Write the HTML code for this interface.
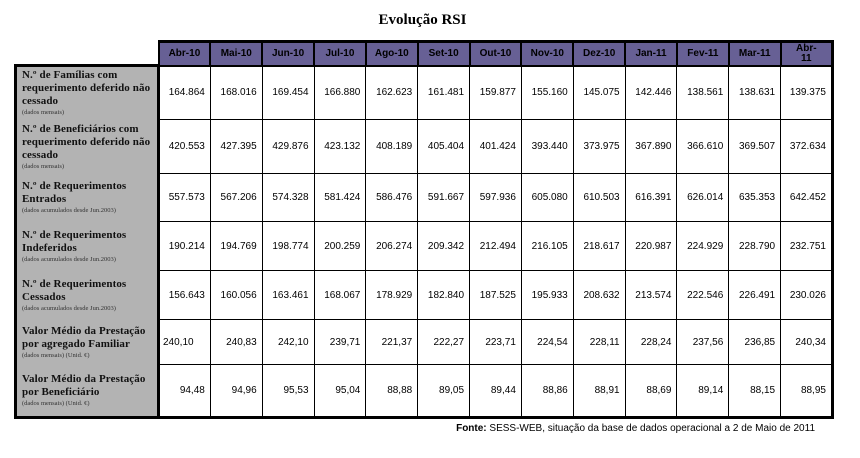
<!DOCTYPE html>
<html><head><meta charset="utf-8">
<style>
html,body{margin:0;padding:0;background:#fff;width:860px;height:458px;overflow:hidden;position:relative}
#title{position:absolute;left:0;width:845px;top:12px;text-align:center;font:bold 15px "Liberation Serif",serif;color:#000}
table{position:absolute;left:14px;top:40px;border-collapse:collapse;table-layout:fixed}
td,th{padding:0;box-sizing:border-box}
th{background:#676095;border:2px solid #000;border-top:3px solid #000;font:bold 10px "Liberation Sans",sans-serif;color:#000;height:24px;line-height:10px}
th.blank{background:#fff;border:none;border-bottom:3px solid #000}
td.lab{background:#b3b3b3;border-left:3px solid #000;border-right:3px solid #000;font:bold 11px "Liberation Serif",serif;color:#111;padding:0 0 0 5px;vertical-align:middle;line-height:13px;text-align:left;letter-spacing:0.1px;overflow:hidden}
td.lab small{display:block;font:normal 6.5px "Liberation Serif",serif;color:#333;line-height:9px;letter-spacing:0}
td.v{border:1.5px solid #000;font:10px "Liberation Sans",sans-serif;color:#000;text-align:right;padding-right:5px;background:#fff}
td.l{text-align:left;padding-left:3px}
tr.last td{border-bottom:3px solid #000}
td.end,th.end{border-right:3px solid #000}
#src{position:absolute;right:45px;top:423px;font:10px "Liberation Sans",sans-serif;color:#000}
</style></head><body>
<div id="title">Evolução RSI</div>
<table id="t">
<colgroup><col style="width:143px"></colgroup>
<thead><tr id="hdr"><th class="blank"></th></tr></thead>
<tbody id="tb"></tbody>
</table>
<div id="src"><b>Fonte:</b> SESS-WEB, situação da base de dados operacional a 2 de Maio de 2011</div>
<script>
const months=["Abr-10","Mai-10","Jun-10","Jul-10","Ago-10","Set-10","Out-10","Nov-10","Dez-10","Jan-11","Fev-11","Mar-11","Abr-<br>11"];
const labels=["N.º de Famílias com requerimento deferido não cessado","N.º de Beneficiários com requerimento deferido não cessado","N.º de Requerimentos Entrados","N.º de Requerimentos Indeferidos","N.º de Requerimentos Cessados","Valor Médio da Prestação por agregado Familiar","Valor Médio da Prestação por Beneficiário"];
const notes=["(dados mensais)","(dados mensais)","(dados acumulados desde Jun.2003)","(dados acumulados desde Jun.2003)","(dados acumulados desde Jun.2003)","(dados mensais) (Unid. €)","(dados mensais) (Unid. €)"];
const familias=["164.864","168.016","169.454","166.880","162.623","161.481","159.877","155.160","145.075","142.446","138.561","138.631","139.375"];
const beneficiarios=["420.553","427.395","429.876","423.132","408.189","405.404","401.424","393.440","373.975","367.890","366.610","369.507","372.634"];
const entrados=["557.573","567.206","574.328","581.424","586.476","591.667","597.936","605.080","610.503","616.391","626.014","635.353","642.452"];
const indeferidos=["190.214","194.769","198.774","200.259","206.274","209.342","212.494","216.105","218.617","220.987","224.929","228.790","232.751"];
const cessados=["156.643","160.056","163.461","168.067","178.929","182.840","187.525","195.933","208.632","213.574","222.546","226.491","230.026"];
const valorFamiliar=["240,10","240,83","242,10","239,71","221,37","222,27","223,71","224,54","228,11","228,24","237,56","236,85","240,34"];
const valorBenef=["94,48","94,96","95,53","95,04","88,88","89,05","89,44","88,86","88,91","88,69","89,14","88,15","88,95"];
const rows=[familias,beneficiarios,entrados,indeferidos,cessados,valorFamiliar,valorBenef];
const heights=[54,54,48,49,49,45,53];
const colg=document.querySelector('colgroup');
const hdr=document.getElementById('hdr');
months.forEach((m,i)=>{
  const c=document.createElement('col');c.style.width='51.85px';colg.appendChild(c);
  const th=document.createElement('th');
  
  
  th.innerHTML=m;if(i===months.length-1)th.className='end';
  hdr.appendChild(th);
});
const tb=document.getElementById('tb');
rows.forEach((vals,r)=>{
  const tr=document.createElement('tr');
  
  
  if(r===rows.length-1)tr.className='last';
  tr.style.height=heights[r]+'px';
  const lt=document.createElement('td');lt.className='lab';
  
  
  lt.innerHTML=labels[r]+'<small>'+notes[r]+'</small>';
  tr.appendChild(lt);
  vals.forEach((v,i)=>{
    const td=document.createElement('td');
    
    
    td.className='v'+(r===5&&i===0?' l':'')+(i===vals.length-1?' end':'');
    td.textContent=v;tr.appendChild(td);
  });
  tb.appendChild(tr);
});
</script>
</body></html>
